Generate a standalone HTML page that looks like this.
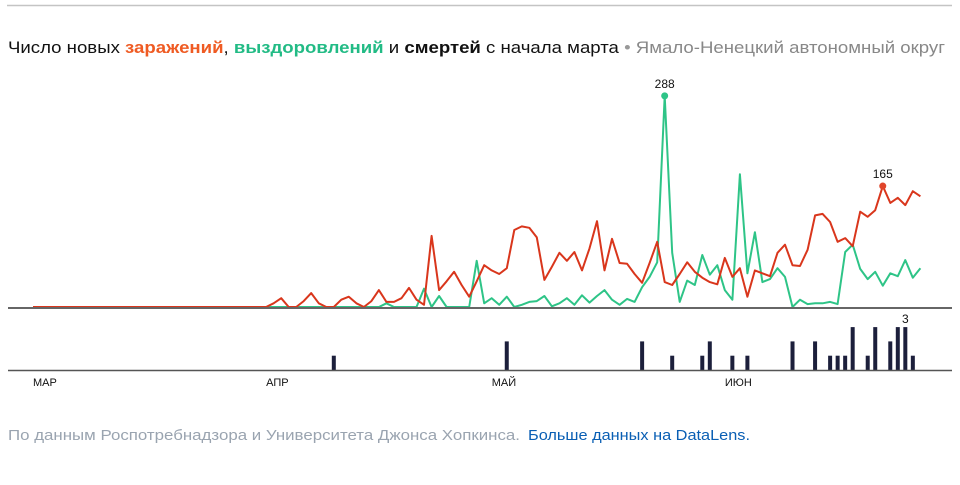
<!DOCTYPE html>
<html><head><meta charset="utf-8"><style>
html,body{margin:0;padding:0;background:#fff;}
svg{display:block;font-family:"Liberation Sans",sans-serif;}
</style></head><body>
<svg id="chart" width="960" height="485" viewBox="0 0 960 485" xmlns="http://www.w3.org/2000/svg">
<line x1="7" y1="5.5" x2="952" y2="5.5" stroke="#c4c4c4" stroke-width="1.5"/>
<text x="8" y="53" font-size="17" textLength="937" lengthAdjust="spacingAndGlyphs" fill="#111"><tspan>Число новых </tspan><tspan fill="#ef5b23" font-weight="bold">заражений</tspan><tspan>, </tspan><tspan fill="#22bb85" font-weight="bold">выздоровлений</tspan><tspan> и </tspan><tspan font-weight="bold">смертей</tspan><tspan> с начала марта </tspan><tspan fill="#999"> • </tspan><tspan fill="#888"> Ямало-Ненецкий автономный округ</tspan></text>
<g id="lines"></g>
<line x1="8" y1="308" x2="952" y2="308" stroke="#666" stroke-width="2"/>
<g id="bars"></g>
<line x1="8" y1="370.5" x2="952" y2="370.5" stroke="#555" stroke-width="1.5"/>
<g id="labels" font-size="11" fill="#111"></g>
<text x="8" y="440" font-size="15" fill="#9aa4b0" textLength="512" lengthAdjust="spacingAndGlyphs">По данным Роспотребнадзора и Университета Джонса Хопкинса.</text>
<text x="528" y="440" font-size="15" fill="#0a5fb4" textLength="222" lengthAdjust="spacingAndGlyphs">Больше данных на DataLens.</text>
</svg>
<script>
const cases = [0,0,0,0,0,0,0,0,0,0,0,0,0,0,0,0,0,0,0,0,0,0,0,0,0,0,0,0,0,0,0,0,
5,12,0,0,8,19,5,0,0,10,14,5,0,8,23,7,7,12,26,10,3,97,23,35,48,30,14,35,57,50,45,53,105,110,108,95,37,55,74,63,75,50,80,117,50,93,60,59,45,33,60,89,34,30,45,61,48,40,34,31,67,41,53,14,50,46,42,74,85,57,56,78,125,127,116,89,94,83,130,123,132,165,142,149,139,158,151];
const recovered = [0,0,0,0,0,0,0,0,0,0,0,0,0,0,0,0,0,0,0,0,0,0,0,0,0,0,0,0,0,0,0,0,0,0,0,0,0,0,0,0,0,0,0,0,0,0,0,
5,0,0,0,0,25,0,15,0,0,0,0,63,5,12,3,14,0,3,7,8,15,1,5,12,3,16,6,15,23,10,3,11,7,27,41,61,288,74,7,36,30,71,44,57,23,10,181,46,102,34,38,53,41,0,10,4,5,5,7,4,75,85,52,38,48,29,46,42,64,40,53];
const deathDays = [40,63,81,85,89,90,93,95,101,104,106,107,108,109,111,112,114,115,116,117];
const deathValues = [1,2,2,1,1,2,1,1,2,2,1,1,1,3,1,3,2,3,3,1];
const monthLabels = ["МАР","АПР","МАЙ","ИЮН"];
const monthStartDays = [0,31,61,92];
const NS="http://www.w3.org/2000/svg";
const x = d => 33 + d*7.52;
const y = v => 307 - v*0.733;
const yd = v => 370 - v*14.3;
const lines=document.getElementById('lines');
function line(data,color,name){
  const p=document.createElementNS(NS,'polyline');
  p.setAttribute('points',data.map((v,i)=>x(i).toFixed(1)+','+y(v).toFixed(1)).join(' '));
  p.setAttribute('fill','none');p.setAttribute('stroke',color);p.setAttribute('stroke-width','2');
  p.setAttribute('stroke-linejoin','round');
  
  
  lines.appendChild(p);
}
line(recovered,'#2ec487','recovered-line');
line(cases,'#d9361c','cases-line');
function peak(data,color,name){
  let mi=0;data.forEach((v,i)=>{if(v>data[mi])mi=i;});
  const c=document.createElementNS(NS,'circle');
  c.setAttribute('cx',x(mi));c.setAttribute('cy',y(data[mi]));c.setAttribute('r','3.5');c.setAttribute('fill',color);
  
  
  lines.appendChild(c);
  const t=document.createElementNS(NS,'text');
  t.setAttribute('x',x(mi));t.setAttribute('y',y(data[mi])-8);t.setAttribute('text-anchor','middle');t.setAttribute('font-size','12');t.setAttribute('fill','#111');
  t.textContent=data[mi];
  
  
  lines.appendChild(t);
}
peak(recovered,'#2ec487','recovered');
peak(cases,'#e0452a','cases');
const bars=document.getElementById('bars');
let maxI=0;
deathValues.forEach((v,i)=>{
  if(v>=deathValues[maxI])maxI=i;
  const r=document.createElementNS(NS,'rect');
  r.setAttribute('x',x(deathDays[i])-2);r.setAttribute('y',yd(v));r.setAttribute('width','4');r.setAttribute('height',370-yd(v));r.setAttribute('fill','#1c1f3b');
  
  
  bars.appendChild(r);
});
const dl=document.createElementNS(NS,'text');
dl.setAttribute('x',x(deathDays[maxI]));dl.setAttribute('y',yd(deathValues[maxI])-4);dl.setAttribute('text-anchor','middle');dl.setAttribute('font-size','12');dl.setAttribute('fill','#111');
dl.textContent=deathValues[maxI];


bars.appendChild(dl);
const labels=document.getElementById('labels');
monthLabels.forEach((m,i)=>{
  const t=document.createElementNS(NS,'text');
  t.setAttribute('x',x(monthStartDays[i]));t.setAttribute('y','386');
  t.textContent=m;
  
  
  labels.appendChild(t);
});
</script>
</body></html>
